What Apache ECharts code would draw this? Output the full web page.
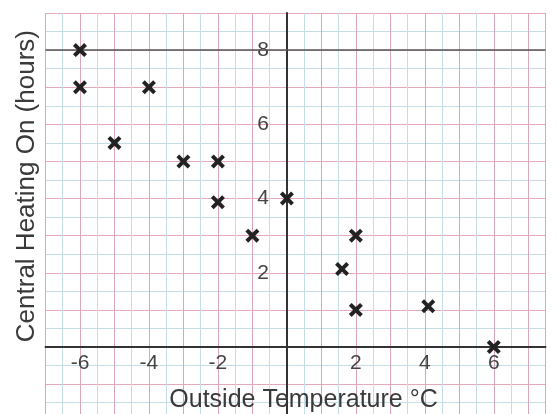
<!DOCTYPE html>
<html>
<head>
<meta charset="utf-8">
<script src="https://cdn.jsdelivr.net/npm/echarts@6/dist/echarts.min.js"></script>
<style>html,body{margin:0;padding:0;background:#fff;}#c{width:557px;height:414px;}</style>
</head>
<body>
<div id="c"></div>
<script>
const temperatures = [-6, -6, -4, -5, -3, -2, -2, -1, 0, 2, 1.6, 2, 4.1, 6];
const heatingHours = [8, 7, 7, 5.5, 5, 5, 3.9, 3, 4, 3, 2.1, 1, 1.1, 0];
const xTickLabels = [-6, -4, -2, 2, 4, 6];
const yTickLabels = [2, 4, 6, 8];

const points = temperatures.map((t, i) => [t, heatingHours[i]]);
const crossPath = 'path://M0,2 L2,0 L5,3 L8,0 L10,2 L7,5 L10,8 L8,10 L5,7 L2,10 L0,8 L3,5 Z';
const labelFont = {fontFamily: 'Liberation Sans, Arial, sans-serif', fontSize: 21, color: '#444'};
const nameFont = {fontFamily: 'Liberation Sans, Arial, sans-serif', fontSize: 26, color: '#3a3a3a'};

// plot geometry
const W = 557, H = 414;
const gridLeft = 45.5, gridRight = 11.5, gridTop = 13;
const xMin = -7, xMax = 7.5, yMin = -2, yMax = 9;
const zeroX = 287, zeroY = 347;
const pxPerY = (zeroY - gridTop) / yMax;
const gridBottomPx = zeroY - yMin * pxPerY;

const chart = echarts.init(document.getElementById('c'));
chart.setOption({
  backgroundColor: '#fff',
  animation: false,
  grid: {left: gridLeft, right: gridRight, top: gridTop, bottom: H - gridBottomPx, containLabel: false,
         outerBoundsMode: 'none'},
  xAxis: {
    type: 'value', min: xMin, max: xMax, interval: 1,
    position: 'bottom', offset: -(gridBottomPx - zeroY),
    axisLine: {onZero: false, lineStyle: {color: '#333', width: 2}},
    axisTick: {show: false},
    axisLabel: Object.assign({margin: 6, formatter: v => xTickLabels.includes(v) ? String(v) : ''}, labelFont),
    splitLine: {show: true, lineStyle: {color: '#d9a6bb', width: 1}},
    minorTick: {show: false, splitNumber: 2},
    minorSplitLine: {show: true, lineStyle: {color: '#c4dde6', width: 1}},
    name: 'Outside Temperature \u00B0C', nameLocation: 'middle', nameGap: 41,
    nameTextStyle: Object.assign({}, nameFont, {fontSize: 25, padding: [0, 0, 0, 16]})
  },
  yAxis: {
    type: 'value', min: yMin, max: yMax, interval: 1,
    position: 'left', offset: -(zeroX - gridLeft),
    axisLine: {onZero: false, lineStyle: {color: '#333', width: 2}},
    axisTick: {show: false},
    axisLabel: Object.assign({margin: 18, formatter: v => yTickLabels.includes(v) ? String(v) : ''}, labelFont),
    splitLine: {show: true, lineStyle: {color: '#e3a9b6', width: 1}},
    minorTick: {show: false, splitNumber: 2},
    minorSplitLine: {show: true, lineStyle: {color: '#c4dde6', width: 1}},
    name: 'Central Heating On (hours)', nameLocation: 'middle', nameGap: 247,
    nameTextStyle: Object.assign({}, nameFont, {padding: [0, 0, 0, 62]})
  },
  series: [{
    type: 'scatter',
    data: points,
    symbol: crossPath,
    symbolSize: 14,
    itemStyle: {color: '#222', opacity: 1},
    markLine: {
      silent: true, symbol: 'none', label: {show: false},
      lineStyle: {color: '#555', width: 1.5, type: 'solid'},
      data: [{yAxis: yTickLabels[yTickLabels.length - 1]}]
    },
    z: 5
  }]
});
</script>
</body>
</html>
